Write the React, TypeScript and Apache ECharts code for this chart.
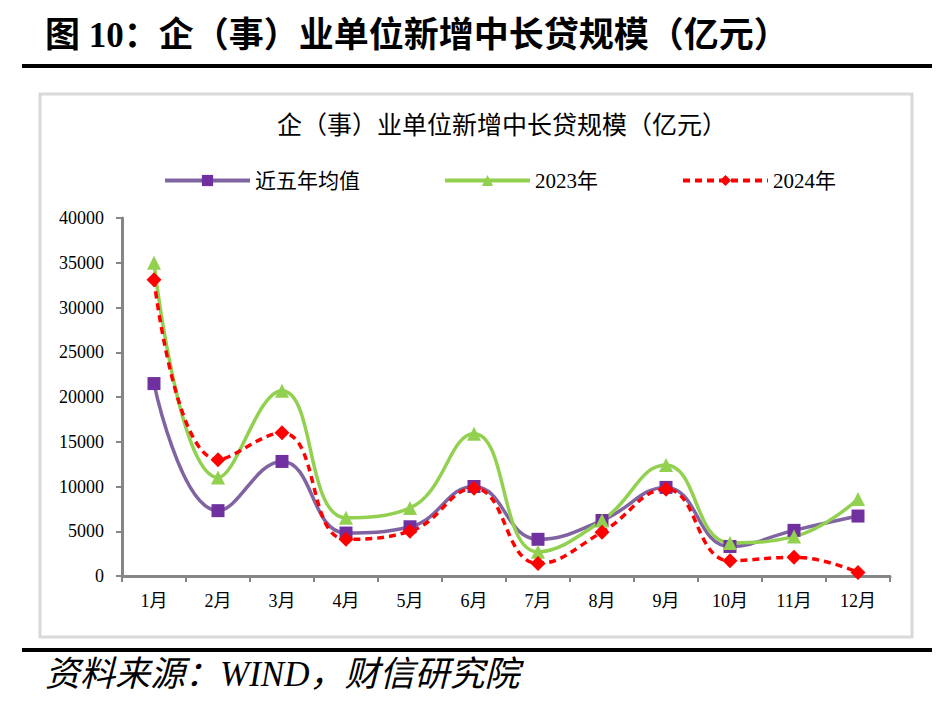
import React, { useEffect, useRef } from "react";
import * as echarts from "echarts";

const categories = ["1月", "2月", "3月", "4月", "5月", "6月", "7月", "8月", "9月", "10月", "11月", "12月"];
const avg5y = [21500, 7300, 12800, 4800, 5500, 10000, 4100, 6200, 9900, 3300, 5100, 6700];
const y2023 = [35000, 11000, 20700, 6500, 7600, 15900, 2700, 6200, 12400, 3700, 4400, 8600];
const y2024 = [33100, 13000, 16000, 4100, 5000, 9800, 1400, 4900, 9700, 1700, 2100, 400];
const seriesNames = ["近五年均值", "2023年", "2024年"];

const FONT = '"Liberation Serif", "Times New Roman", "Noto Sans CJK SC", serif';

export default function App() {
  const ref = useRef<HTMLDivElement>(null);
  useEffect(() => {
    document.body.style.margin = "0";
    const chart = echarts.init(ref.current!, null, { renderer: "svg" });
    chart.setOption({
      animation: false,
      backgroundColor: "#ffffff",
      textStyle: { fontFamily: FONT, color: "#000" },
      graphic: [
        {
          type: "text",
          left: 45,
          top: 18,
          style: {
            text: "图 10：企（事）业单位新增中长贷规模（亿元）",
            font: 'bold 35px "Liberation Serif", "Noto Sans CJK SC", serif',
            fill: "#000",
          },
        },
        {
          type: "rect",
          shape: { x: 22, y: 64, width: 910, height: 4 },
          style: { fill: "#000" },
        },
        {
          type: "rect",
          shape: { x: 40, y: 94, width: 872, height: 543 },
          style: { fill: "none", stroke: "#d9d9d9", lineWidth: 3 },
        },
        {
          type: "rect",
          shape: { x: 22, y: 648, width: 910, height: 4 },
          style: { fill: "#000" },
        },
        {
          type: "text",
          left: 45,
          top: 657,
          style: {
            text: "资料来源：WIND，财信研究院",
            font: 'italic 35px "Liberation Serif", "Noto Sans CJK SC", serif',
            fill: "#000",
          },
        },
      ],
      title: {
        text: "企（事）业单位新增中长贷规模（亿元）",
        left: 272,
        top: 108,
        textStyle: { fontFamily: FONT, fontSize: 25, fontWeight: "normal", color: "#000" },
      },
      legend: {
        top: 165,
        left: 158,
        itemWidth: 85,
        itemHeight: 14,
        itemGap: 83,
        lineStyle: { width: 4 },
        textStyle: { fontFamily: FONT, fontSize: 21, color: "#000" },
        data: seriesNames,
      },
      grid: { left: 122, right: 61, top: 218, bottom: 132 },
      xAxis: {
        type: "category",
        data: categories,
        boundaryGap: true,
        axisLine: { lineStyle: { color: "#868686", width: 3 } },
        axisTick: { show: true, length: 6, lineStyle: { color: "#868686", width: 2 } },
        axisLabel: { fontFamily: FONT, fontSize: 18, color: "#000", margin: 16 },
      },
      yAxis: {
        type: "value",
        min: 0,
        max: 40000,
        interval: 5000,
        splitLine: { show: false },
        axisLine: { show: true, lineStyle: { color: "#868686", width: 3 } },
        axisTick: { show: true, length: 6, lineStyle: { color: "#868686", width: 2 } },
        axisLabel: {
          fontFamily: FONT,
          fontSize: 18,
          color: "#000",
          margin: 18,
          formatter: (v: number) => String(v),
        },
      },
      series: [
        {
          name: seriesNames[0],
          type: "line",
          data: avg5y,
          smooth: 0.45,
          symbol: "rect",
          symbolSize: 13,
          itemStyle: { color: "#7030a0" },
          lineStyle: { color: "#8064a2", width: 3.5 },
        },
        {
          name: seriesNames[1],
          type: "line",
          data: y2023,
          smooth: 0.45,
          symbol: "triangle",
          symbolSize: 14,
          itemStyle: { color: "#92d050" },
          lineStyle: { color: "#92d050", width: 3.5 },
        },
        {
          name: seriesNames[2],
          type: "line",
          data: y2024,
          smooth: 0.45,
          symbol: "diamond",
          symbolSize: 15,
          itemStyle: { color: "#ff0000" },
          lineStyle: { color: "#ff0000", width: 3.5, type: [7, 5] },
        },
      ],
    });
    return () => chart.dispose();
  }, []);
  return <div ref={ref} style={{ width: 951, height: 708 }} />;
}
